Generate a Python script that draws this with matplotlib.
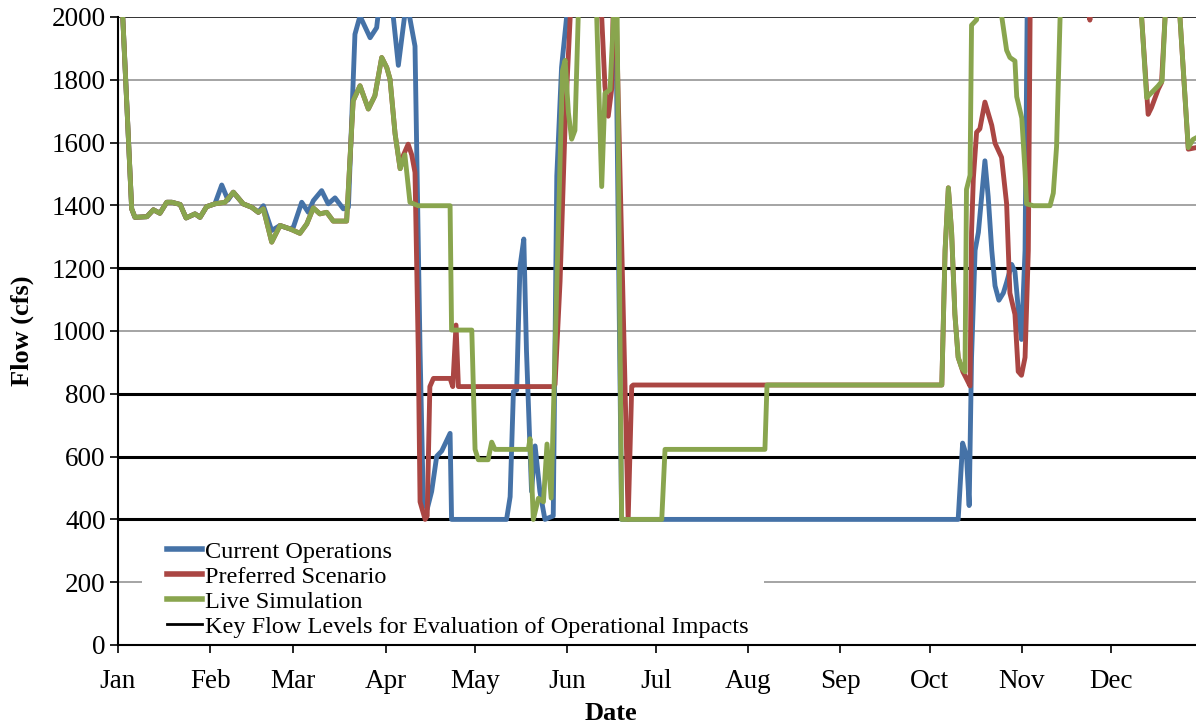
import matplotlib
matplotlib.use("Agg")
import matplotlib.pyplot as plt
from matplotlib.lines import Line2D
from matplotlib.patches import Rectangle

# ---------------- data ----------------
month_ticks = [0, 31, 59, 90, 120, 151, 181, 212, 243, 273, 304, 334]
month_labels = ["Jan", "Feb", "Mar", "Apr", "May", "Jun", "Jul", "Aug", "Sep", "Oct", "Nov", "Dec"]
y_ticks = [0, 200, 400, 600, 800, 1000, 1200, 1400, 1600, 1800, 2000]
key_levels = [400, 600, 800, 1200]
grid_levels = [200, 1000, 1400, 1600, 1800]

# Current Operations (day of year, flow in cfs)
co_days = [0, 1.6, 4.6, 5.7, 9.7, 11.9, 14.1, 16.4, 18.1, 20.9, 22.9, 25.9, 27.6, 29.8, 32.6,
           34.9, 37.0, 38.8, 42.1, 45.0, 47.2, 48.9, 51.7, 54.5, 57.9, 59.0, 61.8, 64.0, 65.7,
           68.5, 70.7, 73.0, 75.8, 77.5, 79.7, 81.4, 84.8, 87.0, 87.5, 88.1, 92.2, 92.6, 94.3,
           96.5, 97.9, 99.9, 101.6, 102.7, 104.0, 105.5, 107.2, 108.9, 111.7, 112.2, 130.7,
           131.9, 133.0, 134.1, 135.2, 136.5, 137.4, 139.1, 140.3, 141.9, 143.6, 146.4, 147.6,
           149.2, 150.9, 151.4, 167.2, 169.4, 282.6, 284.1, 285.4, 286.3, 287.1, 288.3, 289.4,
           291.6, 292.7, 293.9, 295.0, 296.3, 297.8, 298.9, 300.6, 301.7, 303.2, 303.9, 305.1,
           305.8, 306.1, 362.6]
co_flow = [2300, 2000, 1389, 1362, 1364, 1386, 1375, 1410, 1410, 1403, 1360, 1373, 1362, 1396, 1405,
           1465, 1417, 1442, 1405, 1394, 1378, 1399, 1320, 1336, 1325, 1331, 1410, 1378, 1415,
           1447, 1405, 1424, 1389, 1394, 1945, 2003, 1934, 1966, 2008, 2200, 2200, 2000, 1846,
           2010, 2010, 1907, 936, 456, 433, 489, 601, 618, 674, 400, 400,
           472, 807, 812, 1204, 1293, 936, 489, 634, 489, 400, 411, 1494,
           1840, 2000, 2200, 2200, 400, 400, 643, 603, 444, 916, 1257, 1314,
           1542, 1428, 1257, 1144, 1098, 1121, 1155, 1212, 1189, 1030, 973, 1257,
           2000, 2200, 2200]

# Preferred Scenario
ps_days = [0, 1.6, 4.6, 5.7, 9.7, 11.9, 14.1, 16.4, 18.1, 20.9, 22.9, 25.9, 27.6, 29.8, 32.6,
           36.0, 38.8, 42.1, 45.0, 47.2, 48.9, 51.7, 54.5, 57.9, 61.2, 63.5, 65.7, 67.9, 70.2,
           72.4, 76.9, 79.1, 81.4, 84.2, 86.4, 88.7, 90.4, 91.5, 93.2, 94.9, 96.0, 97.6, 98.8,
           99.9, 101.0, 101.6, 103.3, 104.0, 104.9, 106.1, 111.7, 112.6, 113.7, 114.5, 146.4,
           147.0, 148.7, 150.4, 152.1, 152.7, 161.8, 162.7, 163.8, 164.9, 166.1, 166.6, 167.5,
           171.6, 172.8, 173.3, 277.1, 278.2, 279.3, 280.4, 281.5, 282.6, 283.8, 284.2, 285.4,
           286.6, 287.1, 287.7, 288.8, 289.9, 291.6, 293.9, 295.0, 297.2, 298.9, 300.0, 301.7,
           302.8, 303.9, 305.1, 306.2, 306.8, 307.1, 325.5, 326.9, 328.3, 343.7, 344.3, 346.5,
           347.6, 349.9, 351.0, 352.2, 352.8, 356.6, 357.2, 360.0, 362.6]
ps_flow = [2300, 2000, 1389, 1362, 1364, 1386, 1375, 1410, 1410, 1403, 1360, 1373, 1362, 1396, 1405,
           1410, 1442, 1405, 1394, 1378, 1389, 1283, 1336, 1325, 1311, 1341, 1392, 1373, 1378,
           1350, 1350, 1733, 1781, 1707, 1749, 1871, 1839, 1802, 1628, 1517, 1560, 1595, 1561,
           1505, 936, 456, 400, 411, 823, 849, 849, 823, 1019, 823, 823,
           830, 1159, 1662, 2000, 2200, 2200, 2000, 1779, 1684, 1774, 2050, 2050,
           400, 824, 828, 828, 1257, 1456, 1314, 1053, 916, 882, 870, 848,
           825, 1314, 1485, 1633, 1644, 1729, 1655, 1598, 1553, 1405, 1121, 1053,
           871, 859, 916, 1257, 2000, 2200, 2200, 1990, 2200, 2200, 2000, 1690,
           1711, 1770, 1791, 2000, 2200, 2200, 2000, 1579, 1584]

# Live Simulation
ls_days = [0, 1.6, 4.6, 5.7, 9.7, 11.9, 14.1, 16.4, 18.1, 20.9, 22.9, 25.9, 27.6, 29.8, 32.6,
           36.0, 38.8, 42.1, 45.0, 47.2, 48.9, 51.7, 54.5, 57.9, 61.2, 63.5, 65.7, 67.9, 70.2,
           72.4, 76.9, 79.1, 81.4, 84.2, 86.4, 88.7, 90.4, 91.5, 93.2, 94.9, 96.5, 98.2, 101.0,
           111.7, 112.2, 119.0, 120.1, 121.2, 124.5, 125.7, 126.8, 138.0, 138.6, 139.7, 141.4,
           143.1, 144.3, 145.7, 149.5, 150.4, 151.5, 152.6, 153.7, 154.8, 155.4, 160.4, 162.7,
           163.8, 165.5, 167.2, 167.8, 169.4, 182.9, 184.0, 217.6, 218.3, 277.1, 278.2, 279.3,
           280.4, 281.5, 282.6, 283.8, 284.9, 285.4, 286.6, 287.1, 288.8, 289.9, 296.5, 297.2,
           298.9, 300.0, 301.7, 302.3, 304.0, 305.1, 305.6, 307.9, 313.5, 314.6, 315.7, 316.9,
           317.5, 343.7, 344.3, 346.0, 349.8, 351.2, 352.2, 352.8, 356.6, 357.2, 360.0, 361.6,
           362.6]
ls_flow = [2300, 2000, 1389, 1362, 1364, 1386, 1375, 1410, 1410, 1403, 1360, 1373, 1362, 1396, 1405,
           1410, 1442, 1405, 1394, 1378, 1389, 1283, 1336, 1325, 1311, 1341, 1392, 1373, 1378,
           1350, 1350, 1733, 1781, 1707, 1749, 1871, 1839, 1802, 1628, 1517, 1561, 1410, 1399,
           1399, 1003, 1003, 623, 590, 590, 646, 623, 623, 657, 400, 467,
           456, 640, 468, 1829, 1862, 1695, 1611, 1639, 2000, 2200, 2200, 1460,
           1757, 1768, 2100, 2100, 400, 400, 623, 623, 828, 828, 1257, 1456,
           1314, 1053, 916, 882, 870, 1451, 1496, 1974, 1991, 2200, 2200, 2005,
           1894, 1871, 1860, 1746, 1678, 1508, 1405, 1399, 1399, 1439, 1587, 2005,
           2200, 2200, 2000, 1743, 1780, 1796, 2000, 2200, 2200, 2000, 1584, 1610,
           1615]

series_names = ["Current Operations", "Preferred Scenario", "Live Simulation"]
key_name = "Key Flow Levels for Evaluation of Operational Impacts"

# ---------------- style ----------------
plt.rcParams["font.family"] = ["Liberation Serif", "DejaVu Serif"]
c_blue, c_red, c_green = "#4572A7", "#AA4643", "#89A54E"

fig = plt.figure(figsize=(11.96, 7.27), dpi=100)
ax = fig.add_axes([118 / 1196, 82 / 727, 1078 / 1196, 628 / 727])

for g in grid_levels:
    ax.axhline(g, color="#8c8c8c", lw=1.1, zorder=1)
ax.axhline(2000, color="#222222", lw=1.3, zorder=1)
for k in key_levels:
    ax.axhline(k, color="black", lw=2.2, zorder=2)

# legend background box (covers gridline)
ax.add_patch(Rectangle((0.022, 0.016), 0.577, 0.16, transform=ax.transAxes,
                       facecolor="white", edgecolor="none", zorder=1.5))

lw = 3.5
ax.plot(co_days, co_flow, color=c_blue, lw=lw, zorder=3, solid_joinstyle="round")
ax.plot(ps_days, ps_flow, color=c_red, lw=lw, zorder=4, solid_joinstyle="round")
ax.plot(ls_days, ls_flow, color=c_green, lw=lw, zorder=5, solid_joinstyle="round")

ax.set_xlim(0, 362.6)
ax.set_ylim(0, 2000)
ax.set_yticks(y_ticks)
ax.set_xticks(month_ticks)
ax.set_xticklabels(month_labels)
ax.tick_params(axis="both", labelsize=19.5, direction="out", length=6, width=1.2, colors="black")
ax.tick_params(axis="x", pad=11)
ax.tick_params(axis="y", pad=3)

for s in ["top", "right"]:
    ax.spines[s].set_visible(False)
for s in ["left", "bottom"]:
    ax.spines[s].set_linewidth(1.5)
    ax.spines[s].set_zorder(6)

fig.text(22 / 1196, 1 - 331 / 727, "Flow (cfs)", rotation=90, ha="center", va="center",
         fontsize=19, fontweight="bold")
fig.text(611 / 1196, 1 - 714 / 727, "Date", ha="center", va="center",
         fontsize=19, fontweight="bold")

handles = [Line2D([], [], color=c_blue, lw=4),
           Line2D([], [], color=c_red, lw=4),
           Line2D([], [], color=c_green, lw=4),
           Line2D([], [], color="black", lw=2)]
leg = ax.legend(handles, series_names + [key_name], loc="upper left",
                bbox_to_anchor=(0.0455, 0.166), frameon=False, fontsize=17.5,
                handlelength=1.45, handletextpad=0.1, labelspacing=0.12,
                borderpad=0.0, borderaxespad=0.0)
leg.set_zorder(7)

fig.savefig("out.png", dpi=100)
